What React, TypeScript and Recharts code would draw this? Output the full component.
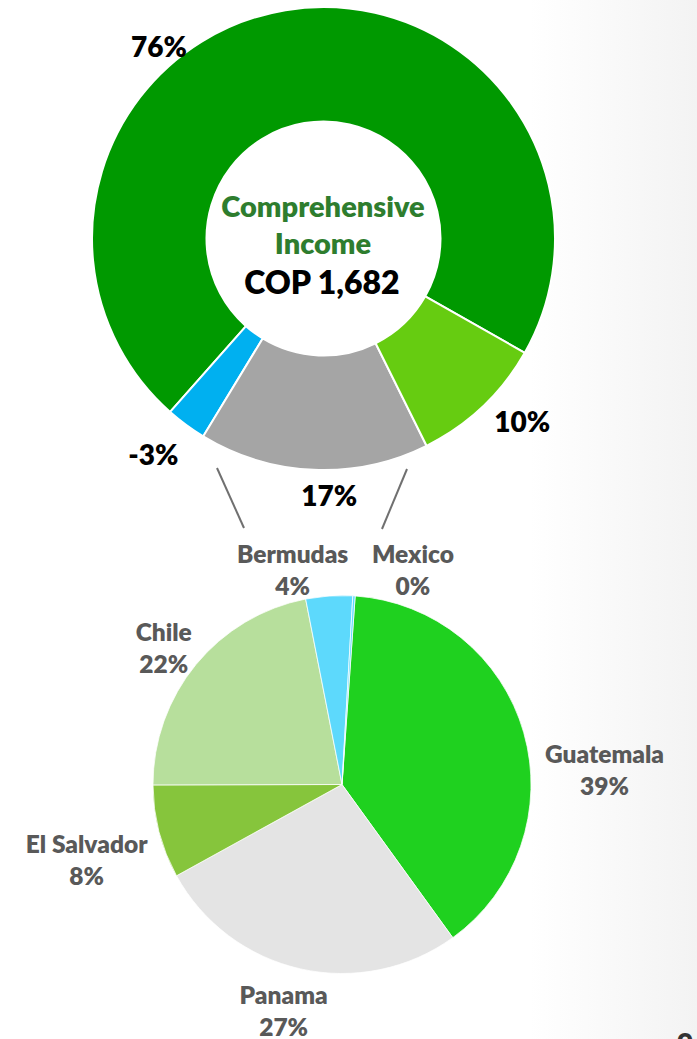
import React from 'react';
import { PieChart, Pie, Cell } from 'recharts';

// top donut: share of comprehensive income (negative slice drawn by its size)
const topLabels = ['76%', '-3%', '17%', '10%'];
const topValues = [76, 3, 17, 10];
const topColors = ['#009900', '#00b0f0', '#a5a5a5', '#66cc11'];

// bottom pie: breakdown of the 17% slice by country
const countries = ['Guatemala', 'Panama', 'El Salvador', 'Chile', 'Bermudas', 'Mexico'];
const countryShares = [39, 27, 8, 22, 4, 0.2];
const countryLabels = ['39%', '27%', '8%', '22%', '4%', '0%'];
const countryColors = ['#1fd11f', '#e4e4e4', '#86c53c', '#b7df9c', '#5dd9fc', '#5dd9fc'];

const centerTitle = ['Comprehensive', 'Income'];
const centerValue = 'COP 1,682';

const topData = topValues.map((v, i) => ({ name: topLabels[i], value: v }));
const countryData = countries.map((c, i) => ({ name: c, value: countryShares[i], label: countryLabels[i] }));

// label placement: angle (deg) and distance beyond the outer radius
const topLabelPos = [
  { angle: 130.5, gap: 22 },
  { angle: 231.7, gap: 43 },
  { angle: -88.7, gap: 25 },
  { angle: -42.5, gap: 38 },
];
const countryLabelPos = [
  { angle: 3.4, gap: 74 },
  { angle: -104.5, gap: 44 },
  { angle: 196.3, gap: 77 },
  { angle: 142.4, gap: 36 },
  { angle: 102.9, gap: 32 },
  { angle: 71.8, gap: 38 },
];

const RAD = Math.PI / 180;
const FONT = 'Lato, "Open Sans", sans-serif';

function polar(cx: number, cy: number, r: number, angle: number) {
  return { x: cx + r * Math.cos(-angle * RAD), y: cy + r * Math.sin(-angle * RAD) };
}

function TopLabel(props: any) {
  const { cx, cy, outerRadius, index } = props;
  const p = topLabelPos[index];
  const { x, y } = polar(cx, cy, outerRadius + p.gap, p.angle);
  return (
    <text x={x} y={y} textAnchor="middle" dominantBaseline="central"
      fontFamily={FONT} fontWeight={800} fontSize={28} fill="#000">
      {topLabels[index]}
    </text>
  );
}

function CountryLabel(props: any) {
  const { cx, cy, outerRadius, index } = props;
  const p = countryLabelPos[index];
  const { x, y } = polar(cx, cy, outerRadius + p.gap, p.angle);
  return (
    <text textAnchor="middle" dominantBaseline="central"
      fontFamily={FONT} fontWeight={800} fontSize={24.5} fill="#595959">
      <tspan x={x} y={y - 16}>{countries[index]}</tspan>
      <tspan x={x} y={y + 16}>{countryLabels[index]}</tspan>
    </text>
  );
}

export default function App() {
  return (
    <div style={{
      position: 'fixed', left: 0, top: 0, width: 697, height: 1039, overflow: 'hidden',
      background: 'linear-gradient(to right, #ffffff 0%, #ffffff 76%, #f3f3f3 100%)',
    }}>
      <PieChart width={697} height={1039} margin={{ top: 0, right: 0, bottom: 0, left: 0 }}>
        <Pie
          data={topData}
          dataKey="value"
          cx={323.5}
          cy={238.5}
          innerRadius={117}
          outerRadius={231.5}
          startAngle={-29.6}
          endAngle={330.4}
          stroke="#ffffff"
          strokeWidth={2}
          label={TopLabel}
          labelLine={false}
          isAnimationActive={false}
        >
          {topData.map((d, i) => <Cell key={d.name} fill={topColors[i]} />)}
        </Pie>
        <Pie
          data={countryData}
          dataKey="value"
          cx={342}
          cy={784.5}
          outerRadius={189}
          startAngle={86}
          endAngle={-274}
          stroke="#ffffff"
          strokeWidth={0.75}
          label={CountryLabel}
          labelLine={false}
          isAnimationActive={false}
        >
          {countryData.map((d, i) => <Cell key={d.name} fill={countryColors[i]} />)}
        </Pie>
      </PieChart>
      <svg width={697} height={1039} style={{ position: 'absolute', left: 0, top: 0, pointerEvents: 'none' }}>
        <text x={323} y={217} textAnchor="middle" fontFamily={FONT} fontWeight={800} fontSize={29} fill="#2e7d2e">
          {centerTitle[0]}
        </text>
        <text x={323} y={254} textAnchor="middle" fontFamily={FONT} fontWeight={800} fontSize={29} fill="#2e7d2e">
          {centerTitle[1]}
        </text>
        <text x={322} y={294} textAnchor="middle" fontFamily={FONT} fontWeight={800} fontSize={32} fill="#000">
          {centerValue}
        </text>
        <line x1={217} y1={468} x2={244} y2={528} stroke="#707070" strokeWidth={2} />
        <line x1={407} y1={469} x2={382} y2={529} stroke="#707070" strokeWidth={2} />
        <text x={677} y={1054} fontFamily={FONT} fontWeight={800} fontSize={28} fill="#333">9</text>
      </svg>
    </div>
  );
}
